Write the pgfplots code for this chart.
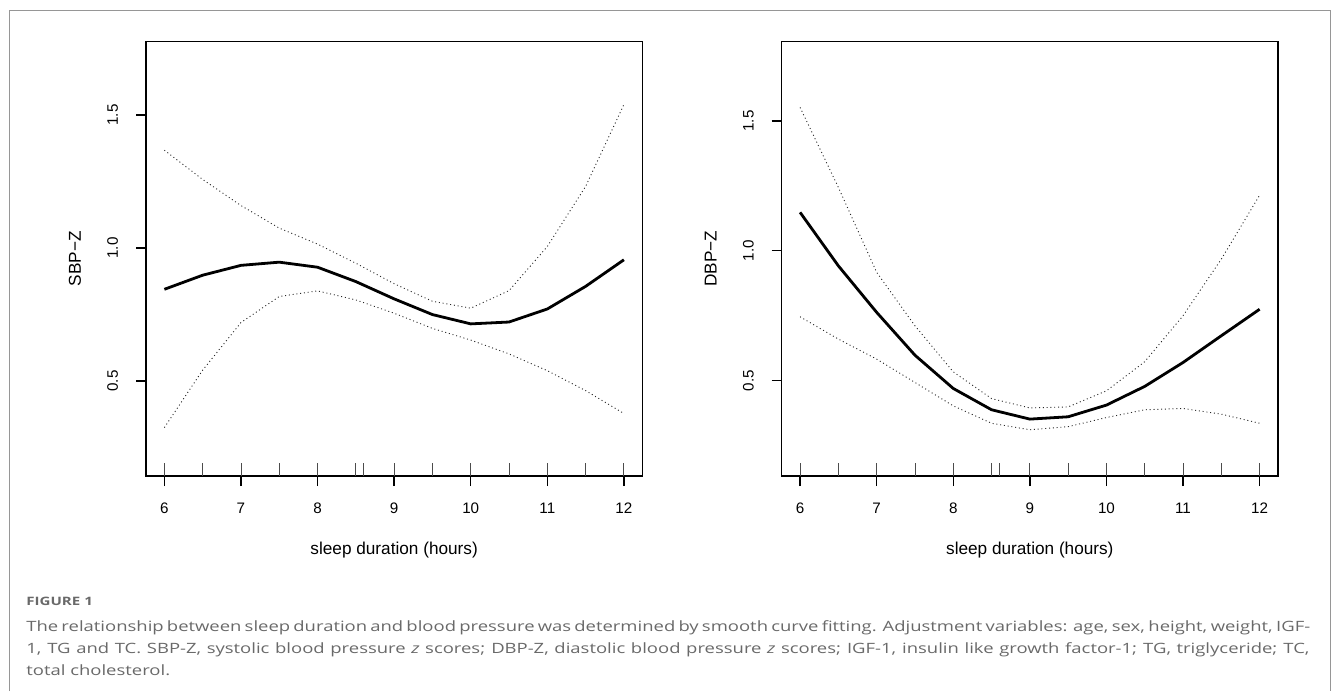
\documentclass[border=0pt]{standalone}
\usepackage{fontspec}
\setmainfont{Liberation Sans}
\newfontfamily\capfont{Open Sans}
\usepackage{graphicx}
\usepackage{pgfplots}
\pgfplotsset{compat=1.18}
\usepackage{pgfplotstable}

\definecolor{framegray}{RGB}{150,150,150}
\definecolor{capgray}{RGB}{105,105,105}

% fitted curve with upper and lower bounds, SBP
\pgfplotstableread{
x    fit   up    lo
6    0.845 1.368 0.325
6.5  0.898 1.258 0.541
7    0.935 1.160 0.720
7.5  0.947 1.075 0.818
8    0.928 1.015 0.839
8.5  0.874 0.943 0.805
9    0.809 0.866 0.755
9.5  0.750 0.800 0.698
10   0.715 0.774 0.654
10.5 0.722 0.840 0.602
11   0.771 1.006 0.539
11.5 0.856 1.232 0.464
12   0.956 1.540 0.378
}\sbp

% same for DBP
\pgfplotstableread{
x    fit   up    lo
6    1.148 1.552 0.746
6.5  0.942 1.244 0.660
7    0.763 0.917 0.583
7.5  0.598 0.711 0.493
8    0.470 0.534 0.403
8.5  0.388 0.431 0.336
9    0.352 0.395 0.311
9.5  0.361 0.399 0.323
10   0.406 0.461 0.358
10.5 0.478 0.573 0.388
11   0.570 0.750 0.393
11.5 0.673 0.968 0.371
12   0.775 1.214 0.336
}\dbp

\pgfplotsset{
  rplot/.style={
    scale only axis, width=248.15pt, height=217.15pt,
    xmin=5.76, xmax=12.24,
    axis line style={line width=0.7pt},
    tick pos=left, tick align=outside,
    major tick length=5pt,
    tick style={black, line width=0.7pt},
    xtick={6,7,8,9,10,11,12},
    ytick={0.5,1.0,1.5}, yticklabels={0.5,1.0,1.5},
    % rug of observed sleep durations
    extra x ticks={6,6.5,7,7.5,8,8.5,8.6,9,9.5,10,10.5,11,11.5,12},
    extra x tick labels={},
    extra x tick style={tick align=inside, major tick length=6.5pt,
      tick style={black!70, line width=0.45pt}},
    /pgf/number format/assume math mode=true,
    tick label style={font=\fontsize{7.6}{9}\selectfont},
    label style={font=\fontsize{8.6}{10}\selectfont},
    xticklabel style={anchor=north, inner xsep=0pt, inner ysep=8.1pt},
    yticklabel style={rotate=90, anchor=south, inner xsep=0pt, inner ysep=8.8pt},
    xlabel={sleep duration (hours)},
    xlabel style={at={(axis description cs:0.5,-0.1704)}, anchor=center},
    ylabel style={at={(axis description cs:-0.1431,0.5)}, anchor=center},
  },
  fitline/.style={black, line width=1.4pt},
  bandline/.style={black!85, line width=0.45pt, dash pattern=on 0.5pt off 1.4pt},
}

\begin{document}
\begin{tikzpicture}
\useasboundingbox (0,0) rectangle (666.5pt,345.5pt);
\draw[framegray, line width=0.5pt] (4.65pt,0) -- (4.65pt,340.15pt) -- (665.35pt,340.15pt) -- (665.35pt,0);

\begin{axis}[rplot, at={(73pt,107.5pt)}, anchor=south west,
    ymin=0.143, ymax=1.776, ylabel={SBP−Z}]
\addplot[bandline] table[x=x, y=up] {\sbp};
\addplot[bandline] table[x=x, y=lo] {\sbp};
\addplot[fitline] table[x=x, y=fit] {\sbp};
\end{axis}

\begin{axis}[rplot, at={(390.85pt,107.5pt)}, anchor=south west,
    ymin=0.133, ymax=1.805, ylabel={DBP−Z}]
\addplot[bandline] table[x=x, y=up] {\dbp};
\addplot[bandline] table[x=x, y=lo] {\dbp};
\addplot[fitline] table[x=x, y=fit] {\dbp};
\end{axis}

% caption (the journal face is wider than Open Sans, hence the horizontal scaling)
\node[anchor=base west, inner sep=0pt, text=capgray, font=\capfont\bfseries\fontsize{5.8}{7}\selectfont]
  at (13pt,42.65pt) {\scalebox{1.3}[1]{FIGURE 1}};
\node[anchor=base west, inner sep=0pt, text=capgray, font=\capfont\fontsize{7.1}{9}\selectfont]
  at (13pt,29.65pt) {\scalebox{1.3}[1]{\makebox[492.7pt][s]{The relationship between sleep duration and blood pressure was determined by smooth curve fitting. Adjustment variables: age, sex, height, weight, IGF-}}};
\node[anchor=base west, inner sep=0pt, text=capgray, font=\capfont\fontsize{7.1}{9}\selectfont]
  at (13pt,18.85pt) {\scalebox{1.3}[1]{\makebox[493.5pt][s]{1, TG and TC. SBP-Z, systolic blood pressure \textit{z} scores; DBP-Z, diastolic blood pressure \textit{z} scores; IGF-1, insulin like growth factor-1; TG, triglyceride; TC,}}};
\node[anchor=base west, inner sep=0pt, text=capgray, font=\capfont\fontsize{7.1}{9}\selectfont]
  at (13pt,8pt) {\scalebox{1.3}[1]{total cholesterol.}};
\end{tikzpicture}
\end{document}
